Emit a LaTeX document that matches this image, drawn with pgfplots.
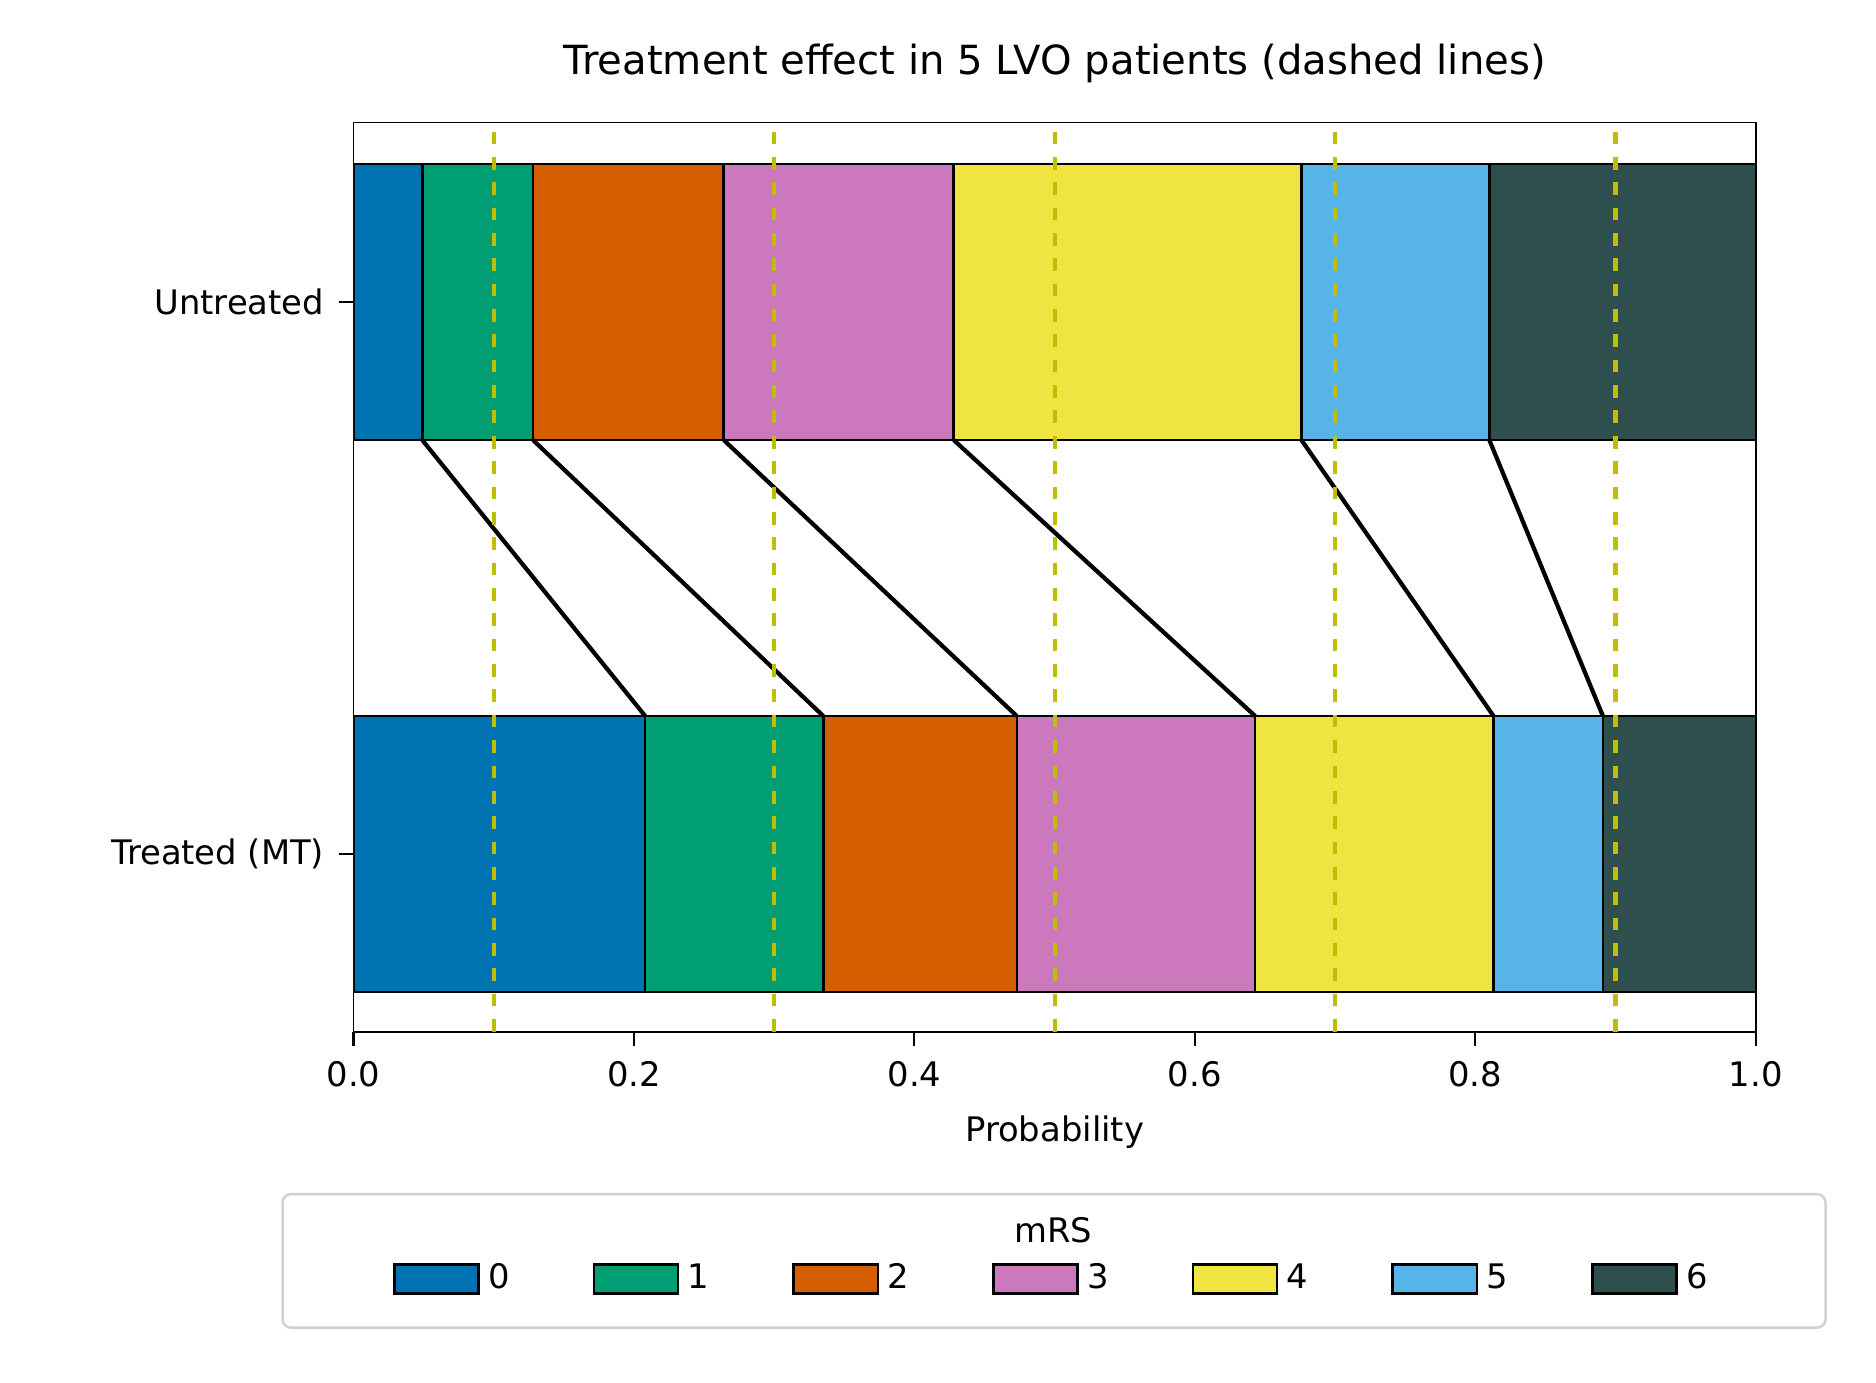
\documentclass[border=0pt]{standalone}
\usepackage{pgfplots}
\pgfplotsset{compat=1.18}
\usepackage{fontspec}
\setmainfont{DejaVu Sans}
\definecolor{c0}{HTML}{0173B2}
\definecolor{c1}{HTML}{029E73}
\definecolor{c2}{HTML}{D55E00}
\definecolor{c3}{HTML}{CC78BC}
\definecolor{c4}{HTML}{F0E442}
\definecolor{c5}{HTML}{56B4E9}
\definecolor{c6}{HTML}{2F4F4F}
\definecolor{yl}{HTML}{BFBF00}
\begin{document}
\begin{tikzpicture}[font=\fontsize{8}{10}\selectfont]
\pgfplotsset{base/.style={
  scale only axis, width=11.66cm, height=7.56cm, at={(0,0)}, anchor=south west,
  xmin=0, xmax=1, ymin=-0.322, ymax=1.325,
  /pgf/number format/assume math mode=true}}
\begin{axis}[base,
  xbar stacked, bar width=0.5,
  ytick={0,1}, yticklabels={Treated (MT),Untreated},
  xtick={0,0.2,0.4,0.6,0.8,1},
  xticklabel style={/pgf/number format/.cd,fixed,fixed zerofill,precision=1},
  tick align=outside, xtick pos=bottom, ytick pos=left,
  major tick length=0.12cm, tick style={black, line width=0.5pt},
  title={\fontsize{9.5}{11}\selectfont Treatment effect in 5 LVO patients (dashed lines)},
  xlabel={Probability},
  legend columns=7,
  legend style={at={(0.5,-0.235)}, anchor=north, draw=none, fill=none,
    /tikz/every even column/.append style={column sep=0.62cm}},
  legend image code/.code={\draw[#1, line width=0.6pt] (0cm,-0.12cm) rectangle (0.7cm,0.12cm);},
  every axis plot/.append style={draw=black, line width=0.6pt},
]
\addplot[fill=c0] coordinates {(0.049,1) (0.208,0)}; \addlegendentry{0}
\addplot[fill=c1] coordinates {(0.079,1) (0.127,0)}; \addlegendentry{1}
\addplot[fill=c2] coordinates {(0.136,1) (0.138,0)}; \addlegendentry{2}
\addplot[fill=c3] coordinates {(0.164,1) (0.170,0)}; \addlegendentry{3}
\addplot[fill=c4] coordinates {(0.248,1) (0.170,0)}; \addlegendentry{4}
\addplot[fill=c5] coordinates {(0.134,1) (0.078,0)}; \addlegendentry{5}
\addplot[fill=c6] coordinates {(0.190,1) (0.109,0)}; \addlegendentry{6}
\end{axis}
\begin{axis}[base, hide axis]
\addplot[black, line width=1pt] coordinates {(0.049,0.75) (0.208,0.25)};
\addplot[black, line width=1pt] coordinates {(0.128,0.75) (0.335,0.25)};
\addplot[black, line width=1pt] coordinates {(0.264,0.75) (0.473,0.25)};
\addplot[black, line width=1pt] coordinates {(0.428,0.75) (0.643,0.25)};
\addplot[black, line width=1pt] coordinates {(0.676,0.75) (0.813,0.25)};
\addplot[black, line width=1pt] coordinates {(0.810,0.75) (0.891,0.25)};
\addplot[yl, dashed, line width=1pt] coordinates {(0.1,-0.322) (0.1,1.325)};
\addplot[yl, dashed, line width=1pt] coordinates {(0.3,-0.322) (0.3,1.325)};
\addplot[yl, dashed, line width=1pt] coordinates {(0.5,-0.322) (0.5,1.325)};
\addplot[yl, dashed, line width=1pt] coordinates {(0.7,-0.322) (0.7,1.325)};
\addplot[yl, dashed, line width=1pt] coordinates {(0.9,-0.322) (0.9,1.325)};
\end{axis}
\draw[black!18, line width=0.6pt, rounded corners=2pt] (-0.59,-1.35) rectangle (12.24,-2.46);
\node at (5.82,-1.65) {mRS};
\pgfresetboundingbox
\useasboundingbox (-2.94,-2.92) rectangle (12.66,8.58);
\end{tikzpicture}
\end{document}
